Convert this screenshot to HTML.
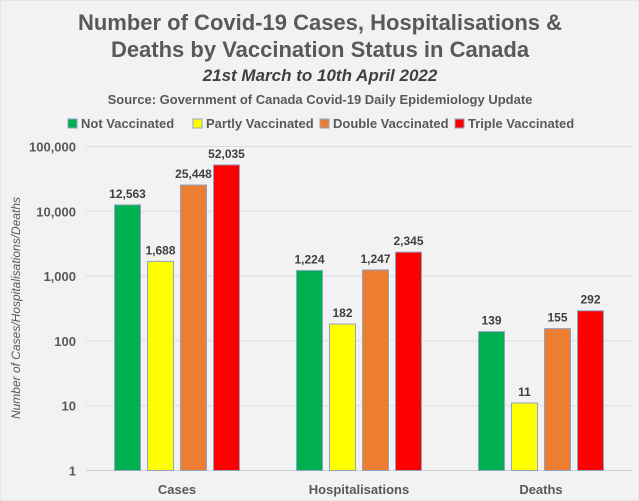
<!DOCTYPE html>
<html><head><meta charset="utf-8"><style>
body{margin:0;background:#f2f2f2;overflow:hidden;}
svg{display:block;}
svg text{font-family:"Liberation Sans",sans-serif;}
</style></head><body>
<svg width="639" height="501" viewBox="0 0 639 501">
<rect x="0" y="0" width="639" height="501" fill="#f2f2f2" stroke="#d9d9d9"/>
<text x="320" y="30" text-anchor="middle" font-size="22" font-weight="bold" fill="#595959">Number of Covid-19 Cases, Hospitalisations &amp;</text>
<text x="320" y="57" text-anchor="middle" font-size="22" font-weight="bold" fill="#595959">Deaths by Vaccination Status in Canada</text>
<text x="320" y="81" text-anchor="middle" font-size="17" font-weight="bold" font-style="italic" fill="#404040">21st March to 10th April 2022</text>
<text x="320" y="104" text-anchor="middle" font-size="13" font-weight="bold" fill="#595959">Source: Government of Canada Covid-19 Daily Epidemiology Update</text>
<g id="legend"></g>
<text transform="translate(20,308) rotate(-90)" text-anchor="middle" font-size="12" font-style="italic" fill="#595959">Number of Cases/Hospitalisations/Deaths</text>
<g id="plot"></g>
</svg>
<script>
const categories=["Cases","Hospitalisations","Deaths"];
const seriesNames=["Not Vaccinated","Partly Vaccinated","Double Vaccinated","Triple Vaccinated"];
const notVaccinated=[12563,1224,139];
const partlyVaccinated=[1688,182,11];
const doubleVaccinated=[25448,1247,155];
const tripleVaccinated=[52035,2345,292];
const tickValues=[1,10,100,1000,10000,100000];
const tickLabels=["1","10","100","1,000","10,000","100,000"];
const colors=["#00b050","#ffff00","#ed7d31","#ff0000"];
const NS="http://www.w3.org/2000/svg";
const X0=86,X1=632,Ytop=146.5,Ybot=470.5;
const y=v=>Ybot-(Math.log10(v)/5)*(Ybot-Ytop);
const bandW=(X1-X0)/categories.length;
const xc=i=>X0+bandW*(i+0.5);
const plot=document.getElementById('plot');
function mk(t,a,p){const e=document.createElementNS(NS,t);for(const k in a)e.setAttribute(k,a[k]);(p||plot).appendChild(e);return e;}
tickValues.forEach((v,i)=>{
 const l=mk('line',{x1:X0,x2:X1,y1:y(v),y2:y(v),stroke:i==0?'#d0d0d0':'#dcdcdc','stroke-width':1});
 
 
 const t=mk('text',{x:X0-10,y:y(v)+5,'text-anchor':'end','font-size':13,'font-weight':'bold',fill:'#595959'});
 t.textContent=tickLabels[i];
 
 
});
const series=[notVaccinated,partlyVaccinated,doubleVaccinated,tripleVaccinated];
categories.forEach((c,i)=>{
 const t=mk('text',{x:xc(i),y:494,'text-anchor':'middle','font-size':13,'font-weight':'bold',fill:'#595959'});
 t.textContent=c;
 
 
 series.forEach((s,j)=>{
  const bx=xc(i)+(j-1.5)*33-13;
  const r=mk('rect',{x:bx,y:y(s[i]),width:26,height:Ybot-y(s[i]),fill:colors[j],stroke:'#8fa5c8','stroke-width':1});
  
  
  const lt=mk('text',{x:bx+13,y:y(s[i])-7,'text-anchor':'middle','font-size':12,'font-weight':'bold',fill:'#404040'});
  lt.textContent=s[i].toLocaleString('en-US');
  
  
 });
});
const leg=document.getElementById('legend');
const lx=[68,193,320,455];
seriesNames.forEach((n,j)=>{
 const r=mk('rect',{x:lx[j],y:119,width:9,height:9,fill:colors[j],stroke:'#8fa5c8'},leg);
 
 
 const t=mk('text',{x:lx[j]+13,y:128,'font-size':13,'font-weight':'bold',fill:'#595959'},leg);
 t.textContent=n;
 
 
});
</script>
</body></html>
